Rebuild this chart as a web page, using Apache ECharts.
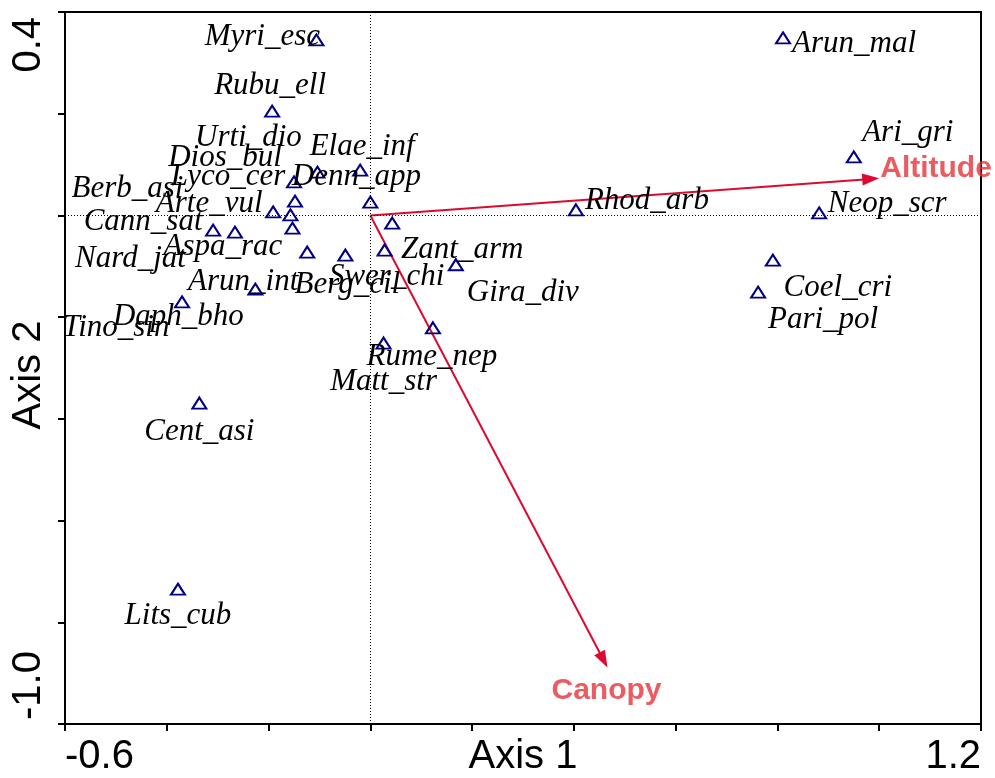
<!DOCTYPE html>
<html><head><meta charset="utf-8">
<script src="https://cdn.jsdelivr.net/npm/echarts@6/dist/echarts.min.js"></script>
<style>html,body{margin:0;padding:0;background:#fff;}#c{width:995px;height:778px;}</style>
</head><body><div id="c"></div>
<script>
// ---- data ----
const speciesNames = ['Myri_esc','Rubu_ell','Dios_bul','Urti_dio','Elae_inf','Lyco_cer','Denn_app','Arte_vul','Berb_asi','Nard_jat','Zant_arm','Cann_sat','Aspa_rac','Arun_int','Berg_cil','Swer_chi','Gira_div','Daph_bho','Tino_sin','Rume_nep','Matt_str','Cent_asi','Lits_cub','Arun_mal','Ari_gri','Rhod_arb','Neop_scr','Coel_cri','Pari_pol'];
const speciesX = [-0.106,-0.193,-0.150,-0.104,-0.020,-0.148,0.000,-0.191,-0.157,-0.153,0.043,-0.309,-0.266,-0.124,-0.049,0.028,0.168,-0.226,-0.370,0.123,0.026,-0.336,-0.378,0.811,0.950,0.404,0.882,0.791,0.762];
const speciesY = [0.345,0.205,0.066,0.085,0.089,0.028,0.026,0.007,0.001,-0.025,-0.015,-0.029,-0.033,-0.072,-0.078,-0.068,-0.097,-0.145,-0.170,-0.221,-0.251,-0.369,-0.735,0.349,0.115,0.011,0.005,-0.088,-0.151];
const envNames = ['Altitude','Canopy'];
const envX = [1.000, 0.466];
const envY = [0.073, -0.889];
const xTickLabels = ['-0.6','1.2'];
const yTickLabels = ['-1.0','0.4'];
const axisTitles = ['Axis 1','Axis 2'];
const X_MIN = -0.6, X_MAX = 1.2, Y_MIN = -1.0, Y_MAX = 0.4, STEP = 0.2;

// ---- layout (label offsets in px) ----
const speciesLabelOffsets = [[-54,-3],[-2,-25],[-69,-24],[-69,-34],[2,-23],[-67,-24],[-14,-25],[-64,-8],[-163,-26],[-162,31],[70,27],[-70,-8],[-12,15],[-64,30],[2,30],[2,27],[67,28],[-77,28],[-66,26],[-1,29],[0,39],[0,29],[0,27],[71,6],[54,-24],[71,-9],[68,-9],[65,28],[65,28]];
const envLabelLayout = [{align:'left', offset:[1,-10]}, {align:'center', offset:[-1,23]}];

const ARROW = '#dc0a30', ENVTXT = '#e5333a', NAVY = '#000080';
const near = (a,b) => Math.abs(a-b) < 1e-6;

const speciesData = speciesNames.map((n,i) => ({
  name: n, value: [speciesX[i], speciesY[i]],
  label: { offset: speciesLabelOffsets[i] }
}));
const envData = envNames.map((n,i) => ({
  name: n, value: [envX[i], envY[i]],
  label: { align: envLabelLayout[i].align, offset: envLabelLayout[i].offset }
}));

const chart = echarts.init(document.getElementById('c'), null, {renderer:'canvas'});
chart.setOption({
  animation: false,
  backgroundColor: '#fff',
  grid: { left: 65, right: 14, top: 12, bottom: 54, containLabel: false, outerBoundsMode: 'none',
          show: true, borderColor: '#000', borderWidth: 2, backgroundColor: 'transparent' },
  xAxis: {
    type: 'value', min: X_MIN, max: X_MAX, interval: STEP,
    name: axisTitles[0], nameLocation: 'middle', nameGap: 13, nameMoveOverlap: false,
    nameTextStyle: { fontFamily: 'Liberation Sans', fontSize: 40, color: '#000', verticalAlign: 'top' },
    axisLine: { show: true, onZero: false, lineStyle: { color: '#000', width: 2 } },
    axisTick: { show: true, inside: false, length: 7, lineStyle: { color: '#000', width: 2 } },
    splitLine: { show: false },
    axisLabel: {
      margin: 13, fontFamily: 'Liberation Sans', fontSize: 40, color: '#000',
      showMinLabel: true, showMaxLabel: true,
      alignMinLabel: 'left', alignMaxLabel: 'right',
      formatter: v => near(v, X_MIN) ? xTickLabels[0] : (near(v, X_MAX) ? xTickLabels[1] : '')
    }
  },
  yAxis: {
    type: 'value', min: Y_MIN, max: Y_MAX, interval: STEP,
    name: axisTitles[1], nameLocation: 'middle', nameGap: 16, nameRotate: 90, nameMoveOverlap: false,
    nameTextStyle: { fontFamily: 'Liberation Sans', fontSize: 40, color: '#000', padding: [0,14,0,0] },
    axisLine: { show: true, onZero: false, lineStyle: { color: '#000', width: 2 } },
    axisTick: { show: true, inside: false, length: 7, lineStyle: { color: '#000', width: 2 } },
    splitLine: { show: false },
    axisLabel: {
      margin: 16, rotate: 90, fontFamily: 'Liberation Sans', fontSize: 40, color: '#000',
      showMinLabel: true, showMaxLabel: true,
      verticalAlign: 'bottom', padding: [0, 5, 0, 4],
      alignMinLabel: 'left', alignMaxLabel: 'right',
      verticalAlignMinLabel: 'bottom', verticalAlignMaxLabel: 'bottom',
      formatter: v => near(v, Y_MIN) ? yTickLabels[0] : (near(v, Y_MAX) ? yTickLabels[1] : '')
    }
  },
  series: [
    {
      type: 'scatter', name: 'zero', data: [], silent: true,
      markLine: {
        silent: true, symbol: ['none','none'], animation: false,
        label: { show: false },
        lineStyle: { color: '#000', width: 1, type: [1,2] },
        emphasis: { disabled: true },
        data: [{ xAxis: 0 }, { yAxis: 0 }]
      }
    },
    {
      type: 'custom', name: 'arrows', silent: true, clip: false,
      data: envData.map(d => d.value),
      renderItem: (params, api) => {
        const o = api.coord([0, 0]);
        const t = api.coord([api.value(0), api.value(1)]);
        const dx = t[0]-o[0], dy = t[1]-o[1], len = Math.hypot(dx, dy);
        const ux = dx/len, uy = dy/len;
        const hl = 17, hw = 6;
        const bx = t[0]-ux*hl, by = t[1]-uy*hl;
        return { type: 'group', children: [
          { type: 'line', shape: { x1: o[0], y1: o[1], x2: bx + ux*2, y2: by + uy*2 },
            style: { stroke: ARROW, lineWidth: 2 } },
          { type: 'polygon', shape: { points: [[t[0], t[1]], [bx - uy*hw, by + ux*hw], [bx + uy*hw, by - ux*hw]] },
            style: { fill: ARROW } }
        ]};
      }
    },
    {
      type: 'scatter', name: 'species', data: speciesData, silent: true,
      symbol: 'triangle', symbolSize: [14, 11],
      itemStyle: { color: 'rgba(0,0,0,0)', borderColor: NAVY, borderWidth: 2, opacity: 1 },
      label: {
        show: true, position: 'inside', formatter: '{b}',
        fontFamily: 'Liberation Serif', fontStyle: 'italic', fontSize: 31, color: '#000',
        align: 'center', verticalAlign: 'middle'
      },
      emphasis: { disabled: true }
    },
    {
      type: 'scatter', name: 'envLabels', data: envData, silent: true,
      symbolSize: 0,
      label: {
        show: true, position: 'inside', formatter: '{b}',
        fontFamily: 'Liberation Sans', fontWeight: 'bold', fontSize: 30, color: ENVTXT,
        verticalAlign: 'middle'
      },
      emphasis: { disabled: true }
    }
  ]
});
</script>
</body></html>
